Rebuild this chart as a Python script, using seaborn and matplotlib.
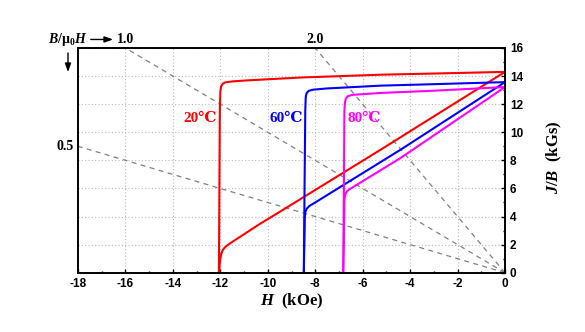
import matplotlib
matplotlib.use("Agg")
import matplotlib.pyplot as plt
import matplotlib.transforms as mtransforms
from matplotlib.ticker import MultipleLocator
import seaborn as sns
import numpy as np

# ---------------- data ----------------
temps = ["20℃", "60℃", "80℃"]
colors = ["#ff0000", "#0000ff", "#ff00ff"]

# J curves (kGs) vs H (kOe)
H_J20 = [0, -2, -5.2, -8.6, -10.9, -11.5, -11.8, -11.9, -11.97, -12.0, -12.02, -12.04, -12.06]
J20 = [14.3, 14.22, 14.1, 13.9, 13.69, 13.62, 13.55, 13.45, 13.25, 12.9, 11.5, 6.0, 0]
H_J60 = [0, -3.1, -5.24, -7.5, -8.1, -8.27, -8.36, -8.40, -8.42, -8.45, -8.48]
J60 = [13.57, 13.42, 13.32, 13.12, 13.03, 12.95, 12.8, 12.5, 11.5, 6.0, 0]
H_J80 = [0, -3.1, -5.24, -6.45, -6.62, -6.71, -6.75, -6.77, -6.79, -6.82]
J80 = [13.22, 12.95, 12.8, 12.66, 12.57, 12.4, 12.1, 11.5, 6.0, 0]

# B curves (kGs) vs H (kOe)
H_B20 = [0, -5.24, -9.47, -10.31, -11.6, -11.8, -11.9, -11.96, -12.0, -12.03, -12.05]
B20 = [14.3, 8.76, 4.36, 3.5, 2.08, 1.82, 1.6, 1.35, 1.0, 0.5, 0]
H_B60 = [0, -4.4, -8.0, -8.25, -8.36, -8.42, -8.44, -8.46, -8.48]
B60 = [13.57, 8.76, 5.0, 4.75, 4.55, 4.3, 3.9, 2.0, 0]
H_B80 = [0, -4.4, -6.35, -6.6, -6.7, -6.75, -6.77, -6.79, -6.82]
B80 = [13.22, 8.17, 6.15, 5.9, 5.7, 5.45, 5.1, 2.5, 0]

# permeance coefficients B/mu0H of the dashed load lines
permeance = [0.5, 1.0, 2.0]
perm_labels = ["0.5", "1.0", "2.0"]

x_ticks = list(range(-18, 1, 2))
y_ticks = list(range(0, 17, 2))
H_min, H_max = -18, 0
B_min, B_max = 0, 16

label_pos = [(-12.85, 10.98), (-9.23, 10.98), (-5.92, 10.98)]

# ---------------- style ----------------
plt.rcParams["axes.unicode_minus"] = False
plt.rcParams["mathtext.fontset"] = "custom"
plt.rcParams["mathtext.rm"] = "Liberation Serif:bold"
plt.rcParams["mathtext.it"] = "Liberation Serif:italic:bold"
plt.rcParams["mathtext.bf"] = "Liberation Serif:bold"
serif = ["Liberation Serif", "DejaVu Serif"]

fig = plt.figure(figsize=(5.85, 3.32), dpi=100)
ax = fig.add_axes([78 / 585, 1 - 272.7 / 332, 427 / 585, 224.7 / 332])

# grid
ax.set_axisbelow(True)
ax.grid(True, which="major", color="#b8b8b8", linestyle=(0, (1, 2)), linewidth=0.8)

# permeance lines
for p in permeance:
    h_end = max(H_min, -B_max / p)
    sns.lineplot(x=[0, h_end], y=[0, -p * h_end], ax=ax, color="#808080",
                 linewidth=0.9, linestyle=(0, (4, 3.5)), sort=False, estimator=None)

# curves
for Hs, Vs, c in [(H_J20, J20, colors[0]), (H_B20, B20, colors[0]),
                  (H_J60, J60, colors[1]), (H_B60, B60, colors[1]),
                  (H_J80, J80, colors[2]), (H_B80, B80, colors[2])]:
    sns.lineplot(x=Hs, y=Vs, ax=ax, color=c, linewidth=1.5, sort=False,
                 estimator=None, solid_joinstyle="round")

ax.set_xlim(H_min, H_max)
ax.set_ylim(B_min, B_max)

# axes / ticks
for s in ax.spines.values():
    s.set_linewidth(1.4)
ax.yaxis.tick_right()
ax.yaxis.set_label_position("right")
ax.set_xticks(x_ticks)
ax.set_yticks(y_ticks)
ax.xaxis.set_minor_locator(MultipleLocator(1))
ax.yaxis.set_minor_locator(MultipleLocator(1))
ax.tick_params(which="both", direction="in", width=1.0, top=False, left=False,
               right=True, bottom=True)
ax.tick_params(which="major", length=3.2)
ax.tick_params(which="minor", length=1.8)
ax.tick_params(axis="x", which="major", pad=4)
ax.tick_params(axis="y", which="major", pad=3.5)
for lab in ax.get_xticklabels() + ax.get_yticklabels():
    lab.set_fontfamily("Liberation Sans")
    lab.set_fontweight("bold")
    lab.set_fontsize(8.5)

ax.set_xlabel(r"$H$  (kOe)", fontfamily=serif, fontweight="bold", fontsize=12)
ax.xaxis.set_label_coords(0.5, -0.085)
ax.set_ylabel(r"$J$/$B$  (kGs)", fontfamily=serif, fontweight="bold", fontsize=12,
              rotation=90)
ax.yaxis.set_label_coords(1.094, 0.515)

# temperature labels
for (hx, by), t, c in zip(label_pos, temps, colors):
    ax.text(hx, by, t, color=c, fontfamily=serif, fontweight="bold",
            fontsize=11, ha="center", va="center")

# permeance labels
trans_top = mtransforms.blended_transform_factory(ax.transData, ax.transAxes)
trans_left = mtransforms.blended_transform_factory(ax.transAxes, ax.transData)
for p, lab in zip(permeance, perm_labels):
    h_end = -B_max / p
    if h_end >= H_min:
        ax.text(h_end, 1.021, lab, transform=trans_top, fontfamily=serif,
                fontweight="bold", fontsize=10, ha="center", va="baseline")
    else:
        ax.text(-0.030, -p * H_min, lab, transform=trans_left, fontfamily=serif,
                fontweight="bold", fontsize=10, ha="center", va="center")

ax.text(0.023, 1.021, r"$B$/μ$_0$$H$", transform=ax.transAxes, fontfamily=serif,
        fontweight="bold", fontsize=10, ha="right", va="baseline")
ax.annotate("", xy=(0.082, 1.038), xytext=(0.030, 1.038), xycoords="axes fraction",
            textcoords="axes fraction",
            arrowprops=dict(arrowstyle="-|>,head_length=0.5,head_width=0.18",
                            color="black", lw=1.0, shrinkA=0, shrinkB=0))
ax.annotate("", xy=(-0.0234, 0.893), xytext=(-0.0234, 0.978), xycoords="axes fraction",
            textcoords="axes fraction",
            arrowprops=dict(arrowstyle="-|>,head_length=0.5,head_width=0.18",
                            color="black", lw=1.0, shrinkA=0, shrinkB=0),
            annotation_clip=False)

fig.savefig("out.png", dpi=100)
